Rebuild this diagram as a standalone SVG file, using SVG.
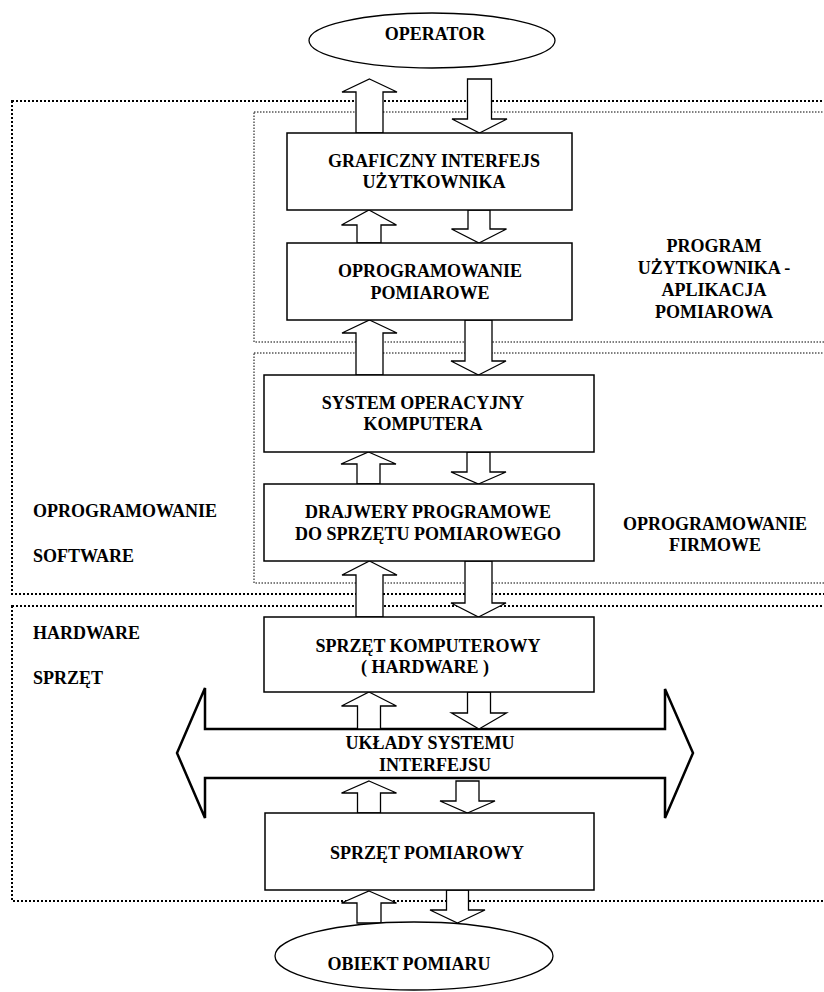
<svg xmlns="http://www.w3.org/2000/svg" width="824" height="992" viewBox="0 0 824 992">
  <style>
    text { font-family: "Liberation Serif", "Times New Roman", serif; font-weight: bold; font-size: 18px; fill: #000; }
    .mid { text-anchor: middle; }
    .box { fill: #fff; stroke: #000; stroke-width: 1.5; }
    .oval { fill: #fff; stroke: #000; stroke-width: 1.3; }
    .zone-outer { fill: none; stroke: #000; stroke-width: 2; stroke-dasharray: 2 2; }
    .zone-inner { fill: none; stroke: #000; stroke-width: 1; stroke-dasharray: 1.5 1.5; }
    .arrow { fill: #fff; stroke: #000; stroke-width: 1.3; stroke-linejoin: miter; }
    .bus { fill: #fff; stroke: #000; stroke-width: 2.5; stroke-linejoin: miter; }
  </style>

  <!-- dotted layer regions -->
  <g id="zones">
    <rect class="zone-outer" x="12" y="101" width="830" height="493"/>
    <rect class="zone-inner" x="254" y="112" width="590" height="230"/>
    <rect class="zone-inner" x="254" y="353" width="590" height="230"/>
    <rect class="zone-outer" x="12" y="606" width="830" height="295"/>
  </g>

  <!-- region labels -->
  <g id="labels">
    <text class="mid" x="714" y="252">PROGRAM</text>
    <text class="mid" x="714" y="274">UŻYTKOWNIKA -</text>
    <text class="mid" x="714" y="296">APLIKACJA</text>
    <text class="mid" x="714" y="318">POMIAROWA</text>
    <text class="mid" x="715" y="530">OPROGRAMOWANIE</text>
    <text class="mid" x="715" y="551">FIRMOWE</text>
    <text x="33" y="517">OPROGRAMOWANIE</text>
    <text x="33" y="562">SOFTWARE</text>
    <text x="33" y="639">HARDWARE</text>
    <text x="33" y="684">SPRZĘT</text>
  </g>

  <!-- interface bus (double-headed arrow) -->
  <g id="bus">
    <polygon class="bus" points="177,753 205,688 205,729 665,729 665,689 693,753 665,818 665,778 205,778 205,818"/>
    <text class="mid" x="430" y="749">UKŁADY SYSTEMU</text>
    <text class="mid" x="435" y="771">INTERFEJSU</text>
  </g>

  <!-- block arrows between layers -->
  <g id="connectors">
    <!-- operator <-> GUI -->
    <polygon class="arrow" points="369.5,79 397,92 383,92 383,133 356,133 356,92 342,92"/>
    <polygon class="arrow" points="479.5,133 507,119 491.5,119 491.5,79 467.5,79 467.5,119 452,119"/>
    <!-- GUI <-> measurement software -->
    <polygon class="arrow" points="369,210 396.5,225 381,225 381,243 357,243 357,225 341.5,225"/>
    <polygon class="arrow" points="479,243 506.5,229 490,229 490,210 468,210 468,229 451.5,229"/>
    <!-- measurement software <-> operating system -->
    <polygon class="arrow" points="369.5,320 397,333 383,333 383,375 356,375 356,333 342,333"/>
    <polygon class="arrow" points="478.5,375 506,361 492,361 492,320 465,320 465,361 451,361"/>
    <!-- operating system <-> drivers -->
    <polygon class="arrow" points="368.5,452 396,464 380,464 380,484 357,484 357,464 341,464"/>
    <polygon class="arrow" points="478.5,484 506,472 490,472 490,452 467,452 467,472 451,472"/>
    <!-- drivers <-> computer hardware -->
    <polygon class="arrow" points="369.5,561 397,575 383,575 383,617 356,617 356,575 342,575"/>
    <polygon class="arrow" points="478.5,617 506,603 492,603 492,561 465,561 465,603 451,603"/>
    <!-- computer hardware <-> interface bus -->
    <polygon class="arrow" points="369,692 396.5,706 380.5,706 380.5,729 357.5,729 357.5,706 341.5,706"/>
    <polygon class="arrow" points="479,729 506.5,713 490.5,713 490.5,692 467.5,692 467.5,713 451.5,713"/>
    <!-- interface bus <-> measurement hardware -->
    <polygon class="arrow" points="369,781 396.5,793 380.5,793 380.5,813 357.5,813 357.5,793 341.5,793"/>
    <polygon class="arrow" points="467.5,813 495,801 479,801 479,781 456,781 456,801 440,801"/>
    <!-- measurement hardware <-> measured object -->
    <polygon class="arrow" points="369,891 396.5,903 381,903 381,923 357,923 357,903 341.5,903"/>
    <polygon class="arrow" points="457.5,923 485,910 468.5,910 468.5,890 446.5,890 446.5,910 430,910"/>
  </g>

  <g id="operator">
    <ellipse class="oval" cx="432" cy="40.5" rx="123" ry="27.5"/>
    <text class="mid" x="435" y="40">OPERATOR</text>
  </g>

  <g id="gui">
    <rect class="box" x="287" y="133" width="285" height="77"/>
    <text class="mid" x="434" y="167">GRAFICZNY INTERFEJS</text>
    <text class="mid" x="434" y="188">UŻYTKOWNIKA</text>
  </g>

  <g id="measurement-software">
    <rect class="box" x="287" y="243" width="285" height="77"/>
    <text class="mid" x="430" y="277">OPROGRAMOWANIE</text>
    <text class="mid" x="430" y="299">POMIAROWE</text>
  </g>

  <g id="operating-system">
    <rect class="box" x="264" y="375" width="330" height="77"/>
    <text class="mid" x="423" y="409">SYSTEM OPERACYJNY</text>
    <text class="mid" x="423" y="430">KOMPUTERA</text>
  </g>

  <g id="drivers">
    <rect class="box" x="264" y="484" width="330" height="77"/>
    <text class="mid" x="428" y="518">DRAJWERY PROGRAMOWE</text>
    <text class="mid" x="428" y="540">DO SPRZĘTU POMIAROWEGO</text>
  </g>

  <g id="computer-hardware">
    <rect class="box" x="264" y="617" width="330" height="75"/>
    <text class="mid" x="428" y="652">SPRZĘT KOMPUTEROWY</text>
    <text class="mid" x="425" y="673">( HARDWARE )</text>
  </g>

  <g id="measurement-hardware">
    <rect class="box" x="265" y="813" width="329" height="77"/>
    <text class="mid" x="427" y="859">SPRZĘT POMIAROWY</text>
  </g>

  <g id="measured-object">
    <ellipse class="oval" cx="414" cy="956" rx="139" ry="34"/>
    <text class="mid" x="409" y="970">OBIEKT POMIARU</text>
  </g>
</svg>
